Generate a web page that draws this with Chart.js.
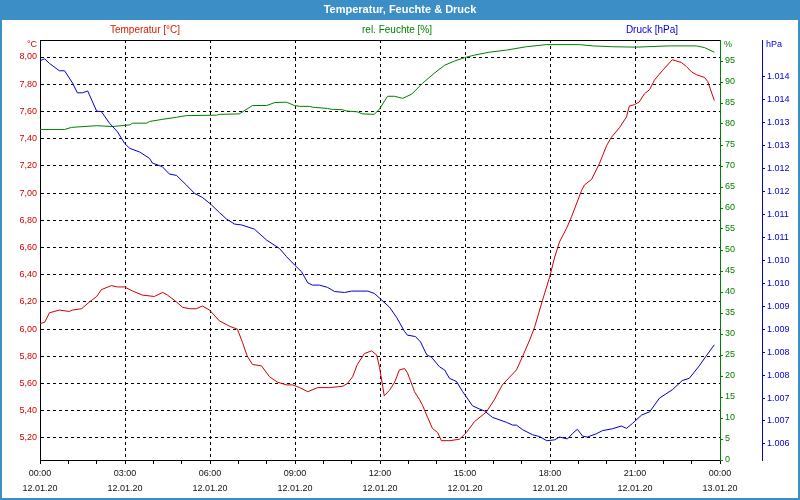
<!DOCTYPE html>
<html>
<head>
<meta charset="utf-8">
<script src="https://cdn.jsdelivr.net/npm/chart.js@4"></script>
<style>
  html, body { margin: 0; padding: 0; background: #fff; }
  canvas { display: block; }
</style>
</head>
<body>
<canvas id="chart" width="800" height="500"></canvas>
<script>
// time axis in minutes since 12.01.20 00:00
const xTicks = [0,60,120,180,240,300,360,420,480,540,600,660,720,780,840,900,960,1020,1080,1140,1200,1260,1320,1380,1440]
const timeLabels = ['00:00','03:00','06:00','09:00','12:00','15:00','18:00','21:00','00:00']
const dateLabels = ['12.01.20','12.01.20','12.01.20','12.01.20','12.01.20','12.01.20','12.01.20','12.01.20','13.01.20']

const tempTicks = [5.2,5.4,5.6,5.8,6.0,6.2,6.4,6.6,6.8,7.0,7.2,7.4,7.6,7.8,8.0]
const tempTickLabels = ['5,20','5,40','5,60','5,80','6,00','6,20','6,40','6,60','6,80','7,00','7,20','7,40','7,60','7,80','8,00']
const humTicks = [0,5,10,15,20,25,30,35,40,45,50,55,60,65,70,75,80,85,90,95]
const pressTicks = [1006,1006.5,1007,1007.5,1008,1008.5,1009,1009.5,1010,1010.5,1011,1011.5,1012,1012.5,1013,1013.5,1014]
const pressTickLabels = ['1.006','1.007','1.007','1.008','1.008','1.009','1.009','1.010','1.010','1.011','1.011','1.012','1.012','1.013','1.013','1.014','1.014']

const tempMinutes = [0,10,20,41,62,69,88,105,120,130,151,164,179,196,217,242,260,270,289,302,317,331,344,359,380,402,418,429,439,450,469,486,503,522,535,550,567,588,613,641,651,662,672,687,702,713,719,729,740,751,761,772,778,789,793,804,810,821,831,842,850,867,888,903,920,945,962,979,1009,1022,1037,1047,1064,1079,1090,1100,1115,1126,1147,1153,1168,1185,1200,1210,1227,1242,1248,1259,1269,1280,1291,1301,1318,1339,1358,1369,1380,1390,1407,1414,1428]
const tempValues = [6.04,6.05,6.12,6.14,6.13,6.14,6.15,6.20,6.24,6.29,6.32,6.31,6.31,6.28,6.25,6.24,6.27,6.25,6.20,6.16,6.15,6.15,6.17,6.14,6.06,6.02,6.00,5.90,5.80,5.74,5.73,5.65,5.61,5.59,5.59,5.57,5.54,5.57,5.57,5.58,5.60,5.65,5.74,5.82,5.84,5.81,5.72,5.51,5.55,5.61,5.70,5.71,5.68,5.58,5.54,5.48,5.44,5.35,5.27,5.24,5.18,5.18,5.19,5.24,5.32,5.39,5.48,5.59,5.70,5.80,5.92,6.01,6.21,6.38,6.53,6.64,6.74,6.83,7.02,7.06,7.10,7.22,7.35,7.41,7.48,7.56,7.64,7.65,7.67,7.73,7.76,7.83,7.90,7.98,7.96,7.93,7.89,7.87,7.85,7.82,7.68]

const humMinutes = [0,52,67,120,154,190,196,226,232,259,289,310,374,380,422,450,480,497,522,539,550,571,577,609,617,641,649,672,683,708,719,736,751,768,787,810,835,857,878,899,920,952,988,1030,1072,1142,1170,1212,1263,1333,1390,1407,1428]
const humValues = [78.7,78.7,79.2,79.6,79.4,79.8,80.2,80.2,80.6,81.1,81.6,82.0,82.1,82.3,82.4,84.4,84.4,85.1,85.2,84.4,84.2,84.2,84.0,83.7,83.5,83.4,83.1,82.9,82.4,82.3,83.6,86.6,86.6,86.1,87.1,89.7,92.1,94.0,95.0,95.8,96.4,97.1,97.6,98.4,98.9,98.9,98.6,98.4,98.3,98.6,98.6,98.2,97.1]

const pressMinutes = [0,10,20,41,52,69,79,90,101,120,130,147,164,179,190,211,232,238,259,274,289,310,327,344,363,380,395,412,427,454,480,507,522,539,554,567,577,592,609,624,645,660,694,708,723,740,755,772,778,795,806,819,829,846,857,867,882,895,916,931,941,958,988,1001,1009,1022,1043,1058,1073,1090,1100,1117,1128,1138,1149,1159,1178,1191,1212,1231,1242,1255,1274,1291,1312,1339,1360,1375,1396,1411,1428]
const pressValues = [1014.35,1014.39,1014.29,1014.13,1014.13,1013.86,1013.65,1013.65,1013.69,1013.25,1013.24,1012.99,1012.80,1012.55,1012.44,1012.36,1012.22,1012.12,1012.04,1011.88,1011.85,1011.64,1011.46,1011.37,1011.21,1011.04,1010.90,1010.79,1010.77,1010.68,1010.44,1010.26,1010.08,1009.90,1009.75,1009.51,1009.46,1009.46,1009.41,1009.32,1009.30,1009.33,1009.33,1009.28,1009.14,1008.98,1008.76,1008.45,1008.37,1008.34,1008.22,1007.94,1007.89,1007.68,1007.61,1007.43,1007.36,1007.14,1006.83,1006.76,1006.72,1006.58,1006.47,1006.41,1006.41,1006.31,1006.20,1006.16,1006.07,1006.09,1006.15,1006.11,1006.23,1006.32,1006.17,1006.15,1006.22,1006.29,1006.33,1006.39,1006.34,1006.45,1006.63,1006.70,1007.00,1007.18,1007.38,1007.43,1007.70,1007.92,1008.16]

const RED = '#d40000'
const GREEN = '#008000'
const BLUE = '#0000d4'
const FONT = 'Liberation Sans, Arial, sans-serif'

const points = (xs, ys) => xs.map((x, i) => ({x: x, y: ys[i]}))
const setTicks = (list) => (scale) => { scale.ticks = list.map(v => ({value: v})) }

const frame = {
    id: 'frame',
    beforeDraw(chart) {
        const ctx = chart.ctx
        ctx.save()
        ctx.fillStyle = '#fff'
        ctx.fillRect(0, 0, 800, 500)
        ctx.restore()
    },
    afterDraw(chart) {
        const ctx = chart.ctx
        const a = chart.chartArea
        ctx.save()
        // title bar and frame
        ctx.fillStyle = '#3c8fc6'
        ctx.fillRect(0, 0, 800, 20)
        ctx.fillRect(0, 0, 2, 500)
        ctx.fillRect(798, 0, 2, 500)
        ctx.fillRect(0, 498, 800, 2)
        ctx.fillStyle = '#fff'
        ctx.font = 'bold 11px ' + FONT
        ctx.textAlign = 'center'
        ctx.textBaseline = 'middle'
        ctx.fillText('Temperatur, Feuchte & Druck', 400, 10)

        // top border of the plot
        ctx.strokeStyle = '#000'
        ctx.lineWidth = 1
        ctx.beginPath()
        ctx.moveTo(a.left, 40.5)
        ctx.lineTo(a.right, 40.5)
        ctx.stroke()

        // series captions
        ctx.font = '10px ' + FONT
        ctx.fillStyle = '#d42000'
        ctx.fillText('Temperatur [°C]', 145, 30)
        ctx.fillStyle = GREEN
        ctx.fillText('rel. Feuchte [%]', 397, 30)
        ctx.fillStyle = BLUE
        ctx.fillText('Druck [hPa]', 652, 30)

        // units at the top of the axes
        ctx.font = '9px ' + FONT
        ctx.fillStyle = RED
        ctx.textAlign = 'right'
        ctx.fillText('°C', 37, 45)
        ctx.textAlign = 'left'
        ctx.fillStyle = GREEN
        ctx.fillText('%', 724, 45)
        ctx.fillStyle = BLUE
        ctx.fillText('hPa', 766, 45)
        ctx.restore()
    }
}

const tickFont = {family: FONT, size: 9}

let chart = new Chart(document.querySelector('#chart'), {
    type: 'line',
    data: {
        datasets: [
            {label: 'Druck [hPa]', data: points(pressMinutes, pressValues), yAxisID: 'yP', borderColor: BLUE},
            {label: 'rel. Feuchte [%]', data: points(humMinutes, humValues), yAxisID: 'yH', borderColor: GREEN},
            {label: 'Temperatur [°C]', data: points(tempMinutes, tempValues), yAxisID: 'yT', borderColor: RED}
        ]
    },
    options: {
        responsive: false,
        animation: false,
        devicePixelRatio: 1,
        layout: {padding: {top: 40, left: 0, right: 1, bottom: 0}},
        elements: {
            line: {borderWidth: 1, tension: 0},
            point: {radius: 0}
        },
        plugins: {legend: {display: false}, title: {display: false}, tooltip: {enabled: false}},
        scales: {
            x: {
                type: 'linear', min: 0, max: 1440,
                afterBuildTicks: setTicks(xTicks),
                afterFit: s => { s.height = 40 },
                grid: {
                    color: c => (c.tick && c.tick.value % 180 === 0 && c.tick.value > 0 && c.tick.value < 1440) ? '#000' : 'rgba(0,0,0,0)',
                    tickColor: '#000', tickLength: 4, lineWidth: 1
                },
                border: {color: '#000', dash: [3, 3]},
                ticks: {
                    autoSkip: false, maxRotation: 0, padding: 2, color: '#111',
                    font: {family: FONT, size: 9, lineHeight: '15px'},
                    callback: v => v % 180 === 0 ? [timeLabels[v / 180], dateLabels[v / 180]] : ''
                }
            },
            yT: {
                type: 'linear', position: 'left', min: 5.038, max: 8.125,
                afterBuildTicks: setTicks(tempTicks),
                afterFit: s => { s.width = 40 },
                grid: {color: '#000', drawTicks: false},
                border: {color: '#000', dash: [3, 3]},
                ticks: {color: RED, padding: 3, font: tickFont, callback: (v, i) => tempTickLabels[i]}
            },
            yH: {
                type: 'linear', position: 'right', min: 0, max: 100,
                afterBuildTicks: setTicks(humTicks),
                afterFit: s => { s.width = 42 },
                grid: {drawOnChartArea: false, color: GREEN, tickLength: 3},
                border: {color: GREEN},
                ticks: {color: GREEN, padding: 2, font: tickFont}
            },
            yP: {
                type: 'linear', position: 'right', min: 1005.65, max: 1014.8,
                afterBuildTicks: setTicks(pressTicks),
                afterFit: s => { s.width = 37 },
                grid: {drawOnChartArea: false, color: BLUE, tickLength: 3},
                border: {color: BLUE},
                ticks: {color: BLUE, padding: 2, font: tickFont, callback: (v, i) => pressTickLabels[i]}
            }
        }
    },
    plugins: [frame]
})
</script>
</body>
</html>
